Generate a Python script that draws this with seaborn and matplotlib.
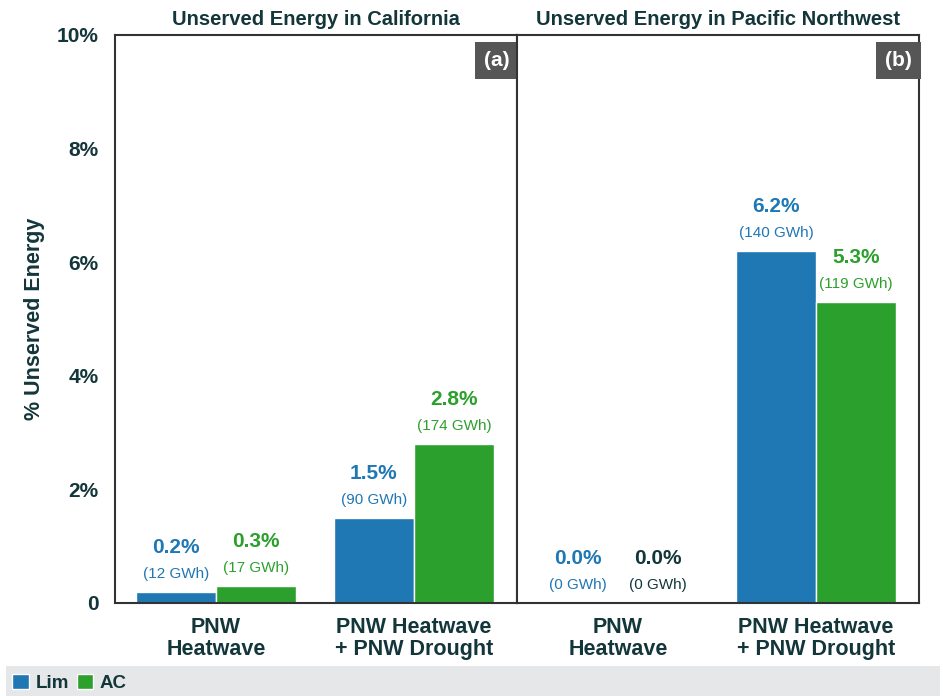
import matplotlib.pyplot as plt
import matplotlib.patches as mpatches
import seaborn as sns
import pandas as pd

scenarios = ["PNW\nHeatwave", "PNW Heatwave\n+ PNW Drought"]
models = ["Lim", "AC"]

ca_pct = {"Lim": [0.2, 1.5], "AC": [0.3, 2.8]}
ca_gwh = {"Lim": [12, 90], "AC": [17, 174]}
pnw_pct = {"Lim": [0.0, 6.2], "AC": [0.0, 5.3]}
pnw_gwh = {"Lim": [0, 140], "AC": [0, 119]}

titles = ["Unserved Energy in California", "Unserved Energy in Pacific Northwest"]
panel_tags = ["(a)", "(b)"]

DARK = "#13363b"
colors = {"Lim": "#1f77b4", "AC": "#2ca02c"}

sns.set_style("white")
plt.rcParams["font.family"] = ["Liberation Sans", "DejaVu Sans"]


def make_frame(pct, gwh):
    rows = []
    for m in models:
        for s, p, g in zip(scenarios, pct[m], gwh[m]):
            rows.append({"scenario": s, "model": m, "pct": p, "gwh": g})
    return pd.DataFrame(rows)


fig = plt.figure(figsize=(9.43, 6.96), dpi=100)
ax_w = 402 / 943
ax_h = (603 - 35) / 696
ax_b = 1 - 603 / 696
axes = [fig.add_axes([115 / 943, ax_b, ax_w, ax_h]),
        fig.add_axes([517 / 943, ax_b, ax_w, ax_h])]

for i, (ax, pct, gwh) in enumerate(zip(axes, [ca_pct, pnw_pct], [ca_gwh, pnw_gwh])):
    df = make_frame(pct, gwh)
    sns.barplot(data=df, x="scenario", y="pct", hue="model", palette=colors,
                hue_order=models, order=scenarios, width=0.81, ax=ax,
                legend=False, saturation=1)
    ax.set_ylim(0, 10)
    ax.set_xlim(-0.51, 1.52)
    ax.set_xlabel("")
    ax.set_ylabel("")
    ax.set_title(titles[i], fontsize=14.5, fontweight="bold", color=DARK, pad=7)
    for sp in ax.spines.values():
        sp.set_color("#333333")
        sp.set_linewidth(1.5)
    ax.tick_params(axis="both", length=0, colors=DARK)
    for lab in ax.get_xticklabels():
        lab.set_fontsize(15.5)
        lab.set_fontweight("bold")
        lab.set_color(DARK)
        lab.set_linespacing(1.1)
    ax.tick_params(axis="x", pad=10)

    # value labels
    for container, m in zip(ax.containers, models):
        for bar, p, g in zip(container, pct[m], gwh[m]):
            x = bar.get_x() + bar.get_width() / 2
            y = bar.get_height()
            c = colors[m]
            if m == "AC" and p == 0:
                c = DARK
            ax.annotate(f"{p:.1f}%", (x, y), xytext=(0, 32), textcoords="offset points",
                        ha="center", va="center", fontsize=15, fontweight="bold", color=c)
            ax.annotate(f"({g} GWh)", (x, y), xytext=(0, 13), textcoords="offset points",
                        ha="center", va="center", fontsize=11, color=c)

    ax.text(0.982, 0.972, panel_tags[i], transform=ax.transAxes, ha="right", va="top",
            fontsize=15, fontweight="bold", color="white",
            bbox=dict(boxstyle="square,pad=0.45", facecolor="#565656", edgecolor="none"))

axes[0].set_yticks([0, 2, 4, 6, 8, 10])
axes[0].set_yticklabels(["0", "2%", "4%", "6%", "8%", "10%"], fontsize=15,
                        fontweight="bold", color=DARK)
axes[0].tick_params(axis="y", pad=12)
axes[0].set_ylabel("% Unserved Energy", fontsize=15.5, fontweight="bold", color=DARK, labelpad=8)
axes[1].set_yticks([])

# legend band
fig.patches.append(mpatches.Rectangle((6 / 943, 0), 934 / 943, 30 / 696,
                                      transform=fig.transFigure, facecolor="#e6e7e8",
                                      edgecolor="none", zorder=0))
handles = [mpatches.Patch(facecolor=colors[m], label=m) for m in models]
leg = fig.legend(handles=handles, loc="center left", bbox_to_anchor=(0.0, 13 / 696),
                 ncol=2, frameon=False, handlelength=0.9, handleheight=0.9,
                 handletextpad=0.35, columnspacing=0.4, borderaxespad=0.25,
                 prop={"size": 13.5, "weight": "bold"})
for t in leg.get_texts():
    t.set_color(DARK)

fig.savefig("out.png", dpi=100)
